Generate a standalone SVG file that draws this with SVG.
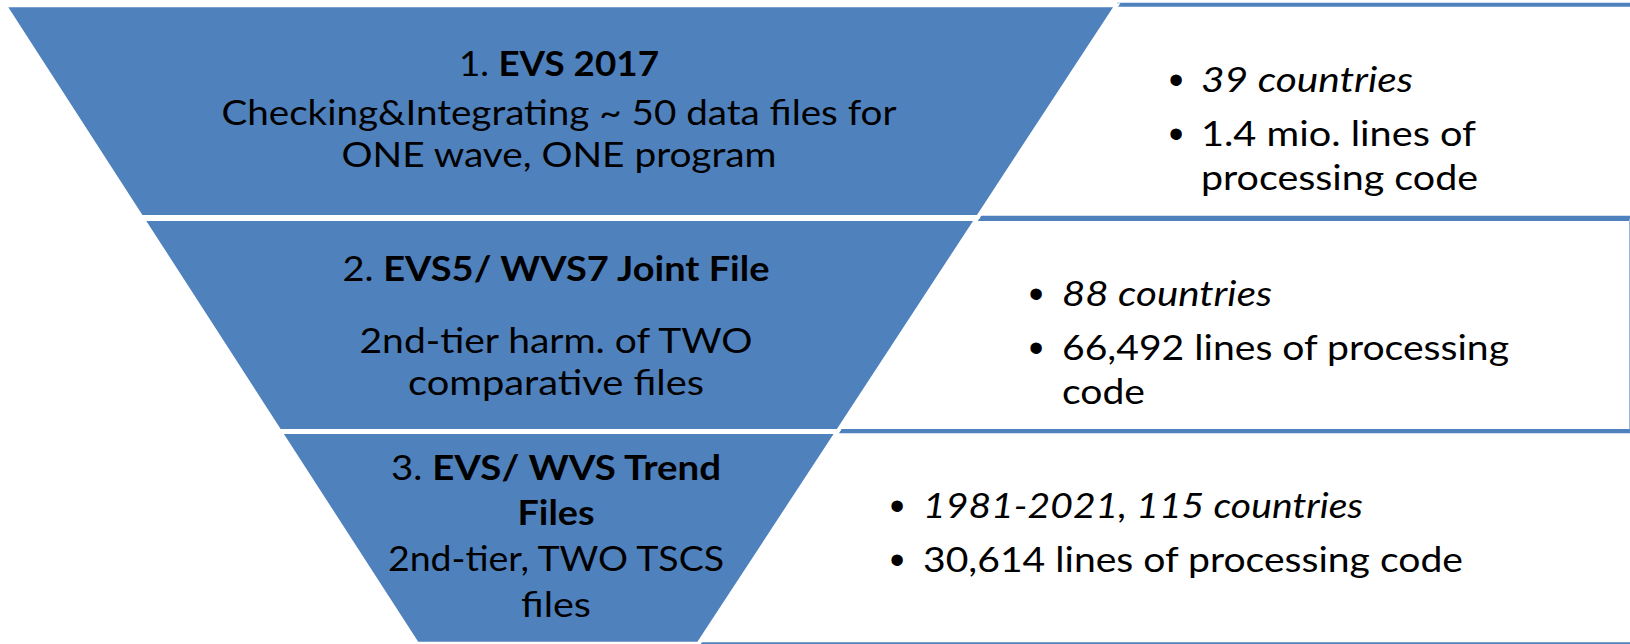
<svg xmlns="http://www.w3.org/2000/svg" width="1630" height="644" viewBox="0 0 1630 644">
<style>
.t{font-family:Lato,"Liberation Sans",sans-serif;font-size:35px;fill:#000}
.c{text-anchor:middle}
.b{font-weight:bold}
.i{font-style:italic}
.trap{fill:#4F81BD;stroke:#fff;stroke-width:4}
.edge{stroke:#4F81BD;stroke-width:4;fill:none}
.bul{font-family:"Liberation Sans",sans-serif;font-size:42px;text-anchor:middle;fill:#000}
</style>
<rect width="1630" height="644" fill="#fff"/>
<g id="box1">
<path class="edge" d="M1117 4.7H1640M960 217.7H1640"/>
<text class="bul" x="1176" y="94">•</text>
<text class="bul" x="1176" y="148">•</text>
<text class="t i" x="1201" y="92" textLength="212" lengthAdjust="spacingAndGlyphs">39 countries</text>
<text class="t" x="1201" y="146" textLength="275" lengthAdjust="spacingAndGlyphs">1.4 mio. lines of</text>
<text class="t" x="1201" y="190" textLength="277" lengthAdjust="spacingAndGlyphs">processing code</text>
</g>
<g id="box2">
<path class="edge" d="M960 219H1640M820 431H1640"/>
<path d="M1629.5 219V431" stroke="#9DB6D8" stroke-width="1"/>
<text class="bul" x="1036" y="308">•</text>
<text class="bul" x="1036" y="362">•</text>
<text class="t i" x="1062" y="306" textLength="210" lengthAdjust="spacingAndGlyphs">88 countries</text>
<text class="t" x="1062" y="360" textLength="447" lengthAdjust="spacingAndGlyphs">66,492 lines of processing</text>
<text class="t" x="1062" y="404" textLength="83" lengthAdjust="spacingAndGlyphs">code</text>
</g>
<g id="box3">
<path class="edge" d="M820 431.3H1640M680 644.3H1640"/>
<text class="bul" x="897" y="520">•</text>
<text class="bul" x="897" y="574">•</text>
<text class="t i" x="923" y="518" textLength="440" lengthAdjust="spacingAndGlyphs">1981-2021, 115 countries</text>
<text class="t" x="923" y="572" textLength="540" lengthAdjust="spacingAndGlyphs">30,614 lines of processing code</text>
</g>
<g id="level1">
<polygon class="trap" points="4.7,5.3 1116.7,5.3 978,217 141.4,217"/>
<text class="t c" x="559" y="76" textLength="200" lengthAdjust="spacingAndGlyphs">1. <tspan class="b">EVS 2017</tspan></text>
<text class="t c" x="559" y="125" textLength="675" lengthAdjust="spacingAndGlyphs">Checking&amp;Integrating ~ 50 data files for</text>
<text class="t c" x="559" y="167" textLength="435" lengthAdjust="spacingAndGlyphs">ONE wave, ONE program</text>
</g>
<g id="level2">
<polygon class="trap" points="142.7,219 976.7,219 837.9,431 279.6,431"/>
<text class="t c" x="556" y="281" textLength="427" lengthAdjust="spacingAndGlyphs">2. <tspan class="b">EVS5/ WVS7 Joint File</tspan></text>
<text class="t c" x="556" y="353" textLength="393" lengthAdjust="spacingAndGlyphs">2nd-tier harm. of TWO</text>
<text class="t c" x="556" y="395" textLength="296" lengthAdjust="spacingAndGlyphs">comparative files</text>
</g>
<g id="level3">
<polygon class="trap" points="280.3,432 837.2,432 698.6,643.7 417,643.7"/>
<text class="t c" x="556" y="480" textLength="330" lengthAdjust="spacingAndGlyphs">3. <tspan class="b">EVS/ WVS Trend</tspan></text>
<text class="t c b" x="556" y="525" textLength="77" lengthAdjust="spacingAndGlyphs">Files</text>
<text class="t c" x="556" y="571" textLength="336" lengthAdjust="spacingAndGlyphs">2nd-tier, TWO TSCS</text>
<text class="t c" x="556" y="617" textLength="70" lengthAdjust="spacingAndGlyphs">files</text>
</g>
<g id="connectors"/>
</svg>
